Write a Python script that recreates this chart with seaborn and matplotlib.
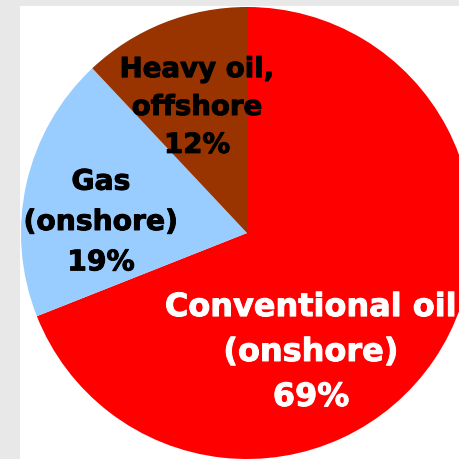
import matplotlib
matplotlib.use("Agg")
import matplotlib.pyplot as plt
import matplotlib.patheffects as pe
import seaborn as sns

# ---- data ----
categories = ["Conventional oil\n(onshore)", "Gas\n(onshore)", "Heavy oil,\noffshore"]
shares = [69, 19, 12]
colors = ["#ff0000", "#99ccff", "#993300"]
text_colors = ["white", "black", "black"]

sns.set_theme(style="white")
plt.rcParams['font.family'] = ['DejaVu Sans']

W = H = 460
fig = plt.figure(figsize=(4.6, 4.6), dpi=100, facecolor="#e8e8e8")
# white plot area: x 20..460 px, y 7..460 px (from top)
ax = fig.add_axes([20 / W, -2 / H, 442 / W, 455 / H], facecolor="white")

cx, cy, r = 247, 460 - 234, 226
palette = sns.color_palette(colors)
wedges, _ = ax.pie(shares, colors=palette, startangle=90, counterclock=False,
                   center=(cx, cy), radius=r, frame=True,
                   wedgeprops=dict(linewidth=0))
ax.set_xlim(20, 462)
ax.set_ylim(-2, 453)
ax.set_aspect("equal", adjustable="box")
ax.set_xticks([])
ax.set_yticks([])
for s in ax.spines.values():
    s.set_visible(False)

# label positions (px from left, px from top), font sizes, line spacing
label_pos = [(311, 353.5), (101, 223), (197, 108)]
label_fs = [23, 20.3, 19.9]
label_ls = [1.58, 1.56, 1.45]
for cat, v, tc, (px, py), fs, ls in zip(categories, shares, text_colors,
                                        label_pos, label_fs, label_ls):
    ax.text(px, 460 - py, f"{cat}\n{v}%", color=tc, fontsize=fs,
            fontweight="bold", ha="center", va="center",
            multialignment="center", linespacing=ls,
            path_effects=[pe.withStroke(linewidth=0.7, foreground=tc)])

fig.savefig("out.png", dpi=100, facecolor=fig.get_facecolor())
